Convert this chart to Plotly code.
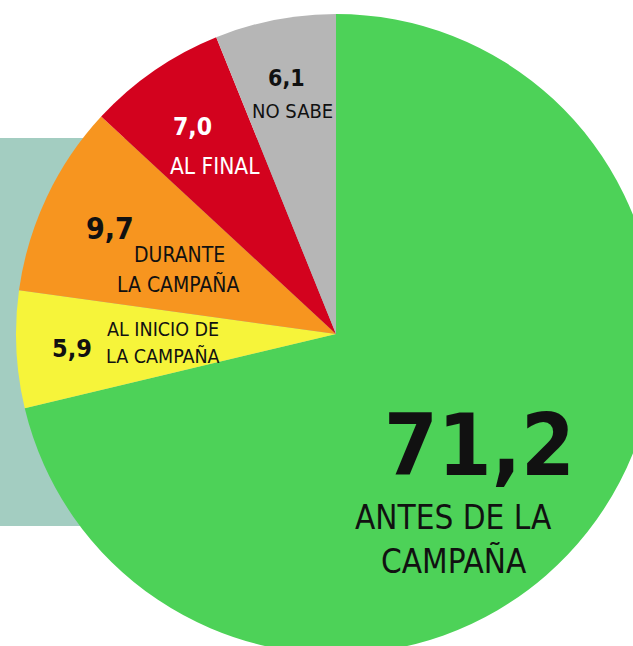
import plotly.graph_objects as go

# Data
categories = ["ANTES DE LA CAMPAÑA", "AL INICIO DE LA CAMPAÑA", "DURANTE LA CAMPAÑA", "AL FINAL", "NO SABE"]
values = [71.2, 5.9, 9.7, 7.0, 6.1]
value_labels = ["71,2", "5,9", "9,7", "7,0", "6,1"]
colors = ["#4dd258", "#f6f43a", "#f7951f", "#d3021e", "#b6b6b6"]

# Layout geometry (pixels)
L, T, W, H = 16, 14, 640, 640
FIG_W, FIG_H = L + W, T + H


def px(x):
    return (x - L) / W


def py(y):
    return 1 - (y - T) / H


FONT = "DejaVu Sans Condensed, Liberation Sans Narrow, Arial Narrow, sans-serif"

fig = go.Figure(
    go.Pie(
        labels=categories,
        values=values,
        marker=dict(colors=colors, line=dict(width=0)),
        sort=False,
        direction="clockwise",
        rotation=0,
        textinfo="none",
        hoverinfo="label+value",
        showlegend=False,
    )
)

fig.add_shape(
    type="rect", xref="paper", yref="paper",
    x0=px(0), x1=px(336), y0=py(526), y1=py(138),
    fillcolor="#a3cdc1", line=dict(width=0), layer="below",
)

ann = [
    # (text, x, y, size, bold, color)
    (value_labels[0], 479, 445, 86, True, "#111111"),
    ("ANTES DE LA", 453, 517, 33, False, "#111111"),
    ("CAMPAÑA", 454, 561, 33, False, "#111111"),
    (value_labels[1], 72, 348, 25, True, "#111111"),
    ("AL INICIO DE", 163, 329, 19.5, False, "#111111"),
    ("LA CAMPAÑA", 163, 356, 19.5, False, "#111111"),
    (value_labels[2], 110, 228, 30, True, "#111111"),
    ("DURANTE", 179, 255, 21, False, "#111111"),
    ("LA CAMPAÑA", 178, 284, 21, False, "#111111"),
    (value_labels[3], 192, 126, 24.5, True, "#ffffff"),
    ("AL FINAL", 215, 166, 22.5, False, "#ffffff"),
    (value_labels[4], 286, 78, 23, True, "#111111"),
    ("NO SABE", 292, 111, 20, False, "#111111"),
]
for text, x, y, size, bold, col in ann:
    fig.add_annotation(
        text=text, x=px(x), y=py(y), xref="paper", yref="paper",
        xanchor="center", yanchor="middle", showarrow=False,
        font=dict(family=FONT, size=size, color=col, weight="bold" if bold else "normal"),
    )

fig.update_layout(
    width=FIG_W, height=FIG_H,
    margin=dict(l=L, t=T, r=0, b=0, autoexpand=False),
    paper_bgcolor="white", plot_bgcolor="white",
)

fig.write_html(
    "out.html",
    config={"displayModeBar": False},
    post_script="document.body.style.margin='0';document.body.style.overflow='hidden';document.documentElement.style.overflow='hidden';",
)
